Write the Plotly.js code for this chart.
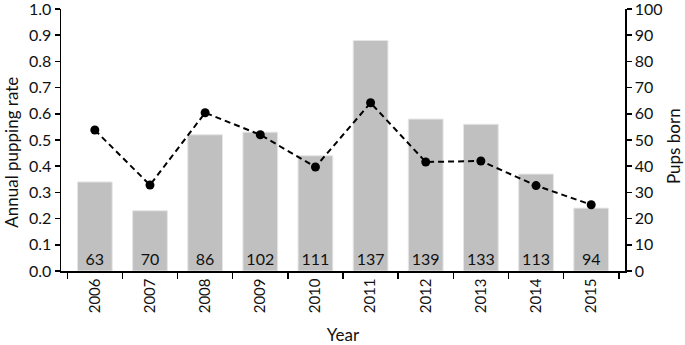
<!DOCTYPE html>
<html>
<head>
<meta charset="utf-8">
<script src="https://cdn.plot.ly/plotly-3.0.1.min.js"></script>
<style>html,body{margin:0;padding:0;background:#fff;}#chart{width:685px;height:345px;}</style>
</head>
<body>
<div id="chart"></div>
<script>
const years = ['2006','2007','2008','2009','2010','2011','2012','2013','2014','2015'];
const pupsBorn = [34, 23, 52, 53, 44, 88, 58, 56, 37, 24];
const pupRate = [0.538, 0.328, 0.604, 0.52, 0.397, 0.642, 0.416, 0.42, 0.326, 0.253];
const females = [63, 70, 86, 102, 111, 137, 139, 133, 113, 94];

const FONT = 'Lato, "Open Sans", sans-serif';
const TICKSIZE = 16;

const barTrace = {
  type: 'bar', x: years, y: pupsBorn, yaxis: 'y',
  marker: {color: '#c0c0c0', line: {color: '#e6e6e6', width: 1}},
  text: females.map(String), textposition: 'inside', insidetextanchor: 'start',
  textangle: 0, constraintext: 'none',
  textfont: {family: FONT, size: 16, color: '#111'},
  hoverinfo: 'skip', showlegend: false
};
const lineTrace = {
  type: 'scatter', mode: 'lines+markers', x: years, y: pupRate, yaxis: 'y2',
  line: {color: '#000', width: 2, dash: '6px,4px'},
  marker: {color: '#000', size: 9},
  showlegend: false
};

const layout = {
  width: 685, height: 345,
  margin: {l: 61, r: 60, t: 9, b: 74},
  paper_bgcolor: '#fff', plot_bgcolor: '#fff',
  font: {family: FONT, size: TICKSIZE, color: '#111'},
  bargap: 0.37,
  xaxis: {
    type: 'category', tickson: 'boundaries', ticks: 'outside', ticklen: 6, tickwidth: 1.5, tickcolor: '#000',
    tickangle: -90, showline: true, linecolor: '#000', linewidth: 1.5, showgrid: false, zeroline: false,
    tickfont: {family: FONT, size: 15}, ticklabeloverflow: 'allow',
    title: {text: 'Year', font: {family: FONT, size: 17}, standoff: 22}
  },
  yaxis: {
    side: 'right', range: [0, 100], dtick: 10, ticks: 'outside', ticklen: 5, tickwidth: 1.5, tickcolor: '#000',
    showline: true, linecolor: '#000', linewidth: 1.5, showgrid: false, zeroline: false,
    tickfont: {family: FONT, size: TICKSIZE}, ticklabeloverflow: 'allow'
  },
  yaxis2: {
    overlaying: 'y', side: 'left', range: [0, 1], dtick: 0.1, tickformat: '.1f',
    ticks: 'outside', ticklen: 5, tickwidth: 1.5, tickcolor: '#000',
    showline: true, linecolor: '#000', linewidth: 1.5, showgrid: false, zeroline: false,
    tickfont: {family: FONT, size: TICKSIZE}, ticklabeloverflow: 'allow'
  },
  annotations: [
    {text: 'Annual pupping rate', xref: 'paper', yref: 'paper', x: -0.087, y: 0.455,
     xanchor: 'center', yanchor: 'middle', textangle: -90, showarrow: false,
     font: {family: FONT, size: 17, color: '#111'}},
    {text: 'Pups born', xref: 'paper', yref: 'paper', x: 1.086, y: 0.475,
     xanchor: 'center', yanchor: 'middle', textangle: -90, showarrow: false,
     font: {family: FONT, size: 17, color: '#111'}}
  ]
};

Plotly.newPlot('chart', [barTrace, lineTrace], layout, {staticPlot: true, displayModeBar: false});
</script>
</body>
</html>
